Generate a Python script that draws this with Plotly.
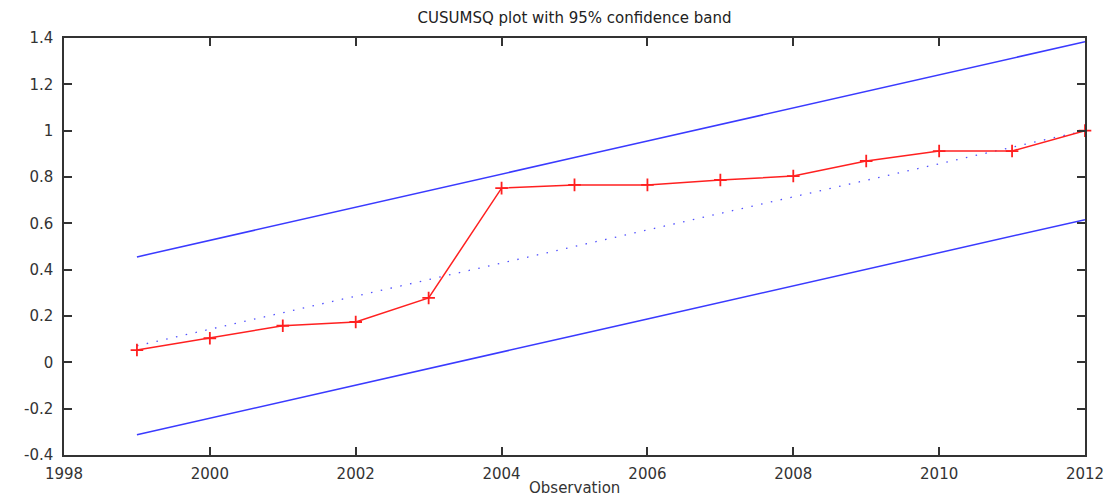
import plotly.graph_objects as go

years = [1999, 2000, 2001, 2002, 2003, 2004, 2005, 2006, 2007, 2008, 2009, 2010, 2011, 2012]
cusumsq = [0.053, 0.104, 0.158, 0.174, 0.278, 0.752, 0.766, 0.766, 0.787, 0.804, 0.869, 0.912, 0.912, 1.0]
expected = [0.0714, 0.1429, 0.2143, 0.2857, 0.3571, 0.4286, 0.5, 0.5714, 0.6429, 0.7143, 0.7857, 0.8571, 0.9286, 1.0]
upper = [0.455, 0.527, 0.598, 0.670, 0.741, 0.813, 0.884, 0.955, 1.027, 1.098, 1.170, 1.241, 1.312, 1.384]
lower = [-0.313, -0.241, -0.170, -0.098, -0.027, 0.045, 0.116, 0.187, 0.259, 0.330, 0.402, 0.473, 0.545, 0.616]

x_ticks = [1998, 2000, 2002, 2004, 2006, 2008, 2010, 2012]
y_ticks = [-0.4, -0.2, 0, 0.2, 0.4, 0.6, 0.8, 1, 1.2, 1.4]
y_labels = ["-0.4", "-0.2", "0", "0.2", "0.4", "0.6", "0.8", "1", "1.2", "1.4"]

fig = go.Figure()
fig.add_trace(go.Scatter(x=years, y=upper, mode="lines",
                         line=dict(color="#3a3aff", width=1.5), showlegend=False))
fig.add_trace(go.Scatter(x=years, y=lower, mode="lines",
                         line=dict(color="#3a3aff", width=1.5), showlegend=False))
fig.add_trace(go.Scatter(x=years, y=expected, mode="lines",
                         line=dict(color="#5050ff", width=1.3, dash="1.5px,8.5px"), showlegend=False))
fig.add_trace(go.Scatter(x=years, y=cusumsq, mode="lines+markers",
                         line=dict(color="#ff2020", width=1.5),
                         marker=dict(symbol="cross-thin-open", size=9,
                                     line=dict(color="#ff0000", width=1.8)),
                         cliponaxis=False, showlegend=False))

fig.update_layout(
    width=1106, height=489,
    margin=dict(l=56, r=29, t=30, b=42, autoexpand=False),
    paper_bgcolor="white", plot_bgcolor="white",
    font=dict(family="DejaVu Sans", size=15, color="#333333"),
    title=dict(text="CUSUMSQ plot with 95% confidence band", x=0.5, xref="paper",
               y=0.98, yref="container", xanchor="center", yanchor="middle",
               font=dict(size=15, color="#222222")),
    annotations=[dict(text="Observation", x=0.5, xref="paper", y=-0.079, yref="paper",
                      xanchor="center", yanchor="middle", showarrow=False,
                      font=dict(size=15, color="#333333"))],
)
fig.update_xaxes(range=[1998, 2012], tickvals=x_ticks, ticktext=[str(v) for v in x_ticks],
                 automargin=False,
                 showgrid=False, zeroline=False, showline=True, linecolor="#333333",
                 linewidth=1.5, mirror="ticks", ticks="inside", ticklen=8, tickwidth=1.5,
                 tickcolor="#333333", ticklabelstandoff=4)
fig.update_yaxes(range=[-0.4, 1.4], tickvals=y_ticks, ticktext=y_labels,
                 automargin=False,
                 showgrid=False, zeroline=False, showline=True, linecolor="#333333",
                 linewidth=1.5, mirror="ticks", ticks="inside", ticklen=8, tickwidth=1.5,
                 tickcolor="#333333", ticklabelstandoff=6)

fig.write_html("out.html")
